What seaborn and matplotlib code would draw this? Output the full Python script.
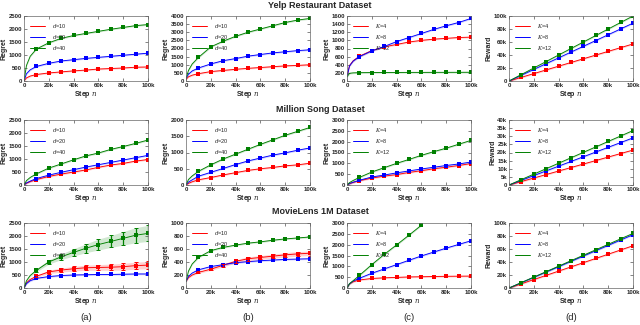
import numpy as np
import pandas as pd
import matplotlib
matplotlib.use("Agg")
import matplotlib.pyplot as plt
import seaborn as sns
from matplotlib.lines import Line2D

# steps at which the curves are read (markers only from 10k on)
steps = [0, 2000, 5000, 10000, 20000, 30000, 40000, 50000, 60000, 70000, 80000, 90000, 100000]

# ---- Yelp Restaurant ----
yelp_a_d10 = [0, 120, 190, 250, 310, 350, 390, 420, 460, 480, 500, 530, 540]
yelp_a_d20 = [0, 280, 430, 560, 680, 770, 820, 870, 910, 950, 990, 1030, 1070]
yelp_a_d40 = [0, 600, 950, 1230, 1470, 1640, 1750, 1830, 1910, 1990, 2060, 2130, 2170]

yelp_b_d10 = [100, 260, 360, 450, 580, 650, 720, 780, 830, 880, 930, 960, 1000]
yelp_b_d20 = [150, 420, 620, 800, 1050, 1250, 1380, 1530, 1630, 1730, 1800, 1870, 1920]
yelp_b_d40 = [150, 650, 1050, 1450, 2100, 2450, 2750, 3000, 3200, 3400, 3600, 3750, 3850]

yelp_c_k4 = [100, 380, 500, 610, 750, 840, 900, 960, 1000, 1030, 1050, 1070, 1080]
yelp_c_k8 = [100, 370, 490, 600, 740, 850, 970, 1070, 1170, 1270, 1360, 1440, 1540]
yelp_c_k12 = [100, 190, 200, 205, 208, 210, 210, 212, 212, 213, 213, 214, 215]

yelp_d_k4 = [0, 1100, 2800, 5700, 11400, 17100, 22800, 28500, 34200, 39900, 45600, 51300, 57000]
yelp_d_k8 = [0, 1800, 4450, 8900, 17800, 26700, 35600, 44500, 53400, 62300, 71200, 80100, 89000]
yelp_d_k12 = [0, 2000, 5000, 10000, 20000, 30000, 40000, 50000, 60000, 70000, 80000, 90000, 100000]

# ---- Million Song ----
song_a_d10 = [0, 70, 130, 210, 330, 420, 500, 580, 680, 770, 830, 920, 980]
song_a_d20 = [0, 80, 150, 250, 380, 490, 590, 690, 780, 870, 960, 1050, 1140]
song_a_d40 = [0, 170, 290, 430, 650, 810, 970, 1120, 1230, 1370, 1480, 1600, 1730]

song_b_d10 = [0, 50, 100, 160, 230, 310, 380, 450, 500, 540, 590, 620, 670]
song_b_d20 = [0, 90, 160, 270, 390, 510, 630, 740, 830, 920, 990, 1070, 1140]
song_b_d40 = [0, 170, 280, 420, 620, 800, 950, 1100, 1250, 1390, 1530, 1650, 1770]

song_c_k4 = [0, 60, 120, 200, 320, 410, 480, 580, 660, 750, 820, 900, 990]
song_c_k8 = [0, 70, 130, 220, 370, 460, 560, 650, 740, 820, 900, 970, 1060]
song_c_k12 = [0, 110, 210, 350, 600, 800, 1000, 1180, 1370, 1540, 1700, 1880, 2060]

song_d_k4 = [0, 430, 1080, 2150, 4300, 6450, 8600, 10750, 12900, 15050, 17200, 19350, 21500]
song_d_k8 = [0, 580, 1450, 2900, 5800, 8700, 11600, 14500, 17400, 20300, 23200, 26100, 29000]
song_d_k12 = [0, 670, 1680, 3350, 6700, 10050, 13400, 16750, 20100, 23450, 26800, 30150, 33500]

# ---- MovieLens 1M ----
movie_a_d10 = [0, 200, 330, 450, 620, 690, 740, 780, 790, 800, 820, 860, 880]
movie_a_d20 = [0, 170, 280, 370, 440, 480, 500, 510, 520, 520, 530, 540, 540]
movie_a_d40 = [0, 280, 480, 680, 1000, 1200, 1370, 1530, 1670, 1790, 1910, 2030, 2100]
movie_a_d10_err = [0, 0, 0, 40, 65, 80, 90, 100, 110, 120, 130, 135, 140]
movie_a_d40_err = [0, 0, 0, 60, 80, 110, 140, 170, 210, 230, 260, 290, 310]

movie_b_d10 = [100, 160, 200, 240, 290, 350, 410, 450, 470, 490, 510, 525, 535]
movie_b_d20 = [100, 180, 230, 280, 330, 360, 390, 405, 420, 430, 440, 445, 450]
movie_b_d40 = [100, 260, 370, 470, 575, 625, 660, 690, 710, 735, 755, 770, 785]
movie_b_d10_err = [0, 0, 0, 15, 20, 25, 25, 30, 30, 30, 35, 35, 35]

movie_c_k4 = [0, 190, 290, 370, 440, 470, 490, 510, 520, 530, 540, 545, 550]
movie_c_k8 = [0, 200, 320, 450, 680, 880, 1080, 1280, 1480, 1660, 1840, 2010, 2180]
movie_c_k12 = [0, 200, 340, 580, 1080, 1550, 1990, 2440, 2900, np.nan, np.nan, np.nan, np.nan]

movie_d_k4 = [0, 1300, 3250, 6500, 13000, 19500, 26000, 32500, 39000, 45500, 52000, 58500, 65000]
movie_d_k8 = [0, 1640, 4100, 8200, 16400, 24600, 32800, 41000, 49200, 57400, 65600, 73800, 82000]
movie_d_k12 = [0, 1680, 4200, 8400, 16800, 25200, 33600, 42000, 50400, 58800, 67200, 75600, 84000]

d_labels = [r"$d$=10", r"$d$=20", r"$d$=40"]
k_labels = [r"$K$=4", r"$K$=8", r"$K$=12"]
row_titles = ["Yelp Restaurant Dataset", "Million Song Dataset", "MovieLens 1M Dataset"]
col_titles = ["(a)", "(b)", "(c)", "(d)"]
colors = ["#ff0000", "#0000ff", "#008000"]

panels = [
    [([yelp_a_d10, yelp_a_d20, yelp_a_d40], None, d_labels, 2500, 500, "Regret"),
     ([yelp_b_d10, yelp_b_d20, yelp_b_d40], None, d_labels, 4000, 500, "Regret"),
     ([yelp_c_k4, yelp_c_k8, yelp_c_k12], None, k_labels, 1600, 200, "Regret"),
     ([yelp_d_k4, yelp_d_k8, yelp_d_k12], None, k_labels, 100000, 20000, "Reward")],
    [([song_a_d10, song_a_d20, song_a_d40], None, d_labels, 2500, 500, "Regret"),
     ([song_b_d10, song_b_d20, song_b_d40], None, d_labels, 2000, 500, "Regret"),
     ([song_c_k4, song_c_k8, song_c_k12], None, k_labels, 3000, 500, "Regret"),
     ([song_d_k4, song_d_k8, song_d_k12], None, k_labels, 40000, 5000, "Reward")],
    [([movie_a_d10, movie_a_d20, movie_a_d40], [movie_a_d10_err, None, movie_a_d40_err], d_labels, 2500, 500, "Regret"),
     ([movie_b_d10, movie_b_d20, movie_b_d40], [movie_b_d10_err, None, None], d_labels, 1000, 200, "Regret"),
     ([movie_c_k4, movie_c_k8, movie_c_k12], None, k_labels, 3000, 500, "Regret"),
     ([movie_d_k4, movie_d_k8, movie_d_k12], None, k_labels, 100000, 20000, "Reward")],
]

sns.set_style("ticks")
plt.rcParams["font.family"] = ["Liberation Sans", "DejaVu Sans"]
plt.rcParams["mathtext.fontset"] = "dejavuserif"

W, H = 640, 325
fig = plt.figure(figsize=(6.4, 3.25), dpi=100)

col_left = [24, 186, 347, 509]
row_top = [16, 120, 223]
ax_w, ax_h = 124, 65


def fmt_k(v):
    return "0" if v == 0 else f"{int(v / 1000)}k"


for r in range(3):
    for c in range(4):
        series, errs, labels, ymax, ystep, ylab = panels[r][c]
        ax = fig.add_axes([col_left[c] / W, 1 - (row_top[r] + ax_h) / H, ax_w / W, ax_h / H])
        df = pd.concat([pd.DataFrame({"step": steps, "value": s, "series": lab})
                        for s, lab in zip(series, labels)])
        df = df.dropna()
        sns.lineplot(data=df, x="step", y="value", hue="series", palette=colors,
                     hue_order=labels, marker="s", markersize=2.5, markeredgewidth=0,
                     markevery=(3, 1), linewidth=0.65, legend=False, ax=ax)
        # light bands / error bars
        for i, s in enumerate(series):
            s = np.array(s, dtype=float)
            e = np.array(errs[i], dtype=float) if (errs and errs[i] is not None) else None
            band = e if e is not None else np.full_like(s, ymax * 0.012)
            band = np.maximum(band, ymax * 0.012)
            ax.fill_between(steps, s - band, s + band, color=colors[i], alpha=0.18, lw=0)
            if e is not None:
                ax.errorbar(steps[3:], s[3:], yerr=e[3:], fmt="none", ecolor=colors[i],
                            elinewidth=0.9, capsize=1.3, capthick=0.7)
        ax.set_xlim(0, 100000)
        ax.set_ylim(0, ymax)
        xt = np.arange(0, 100001, 20000)
        ax.set_xticks(xt)
        ax.set_xticklabels([fmt_k(v) for v in xt])
        yt = np.arange(0, ymax + 1, ystep)
        ax.set_yticks(yt)
        if ylab == "Reward":
            ax.set_yticklabels([fmt_k(v) for v in yt])
        else:
            ax.set_yticklabels([str(int(v)) for v in yt])
        ax.tick_params(direction="in", length=2, width=0.4, labelsize=4.3, pad=1.2,
                       top=True, right=True)
        for lab in ax.get_xticklabels() + ax.get_yticklabels():
            lab.set_fontweight("bold")
        for sp in ax.spines.values():
            sp.set_linewidth(0.5)
            sp.set_color("#666666")
        ax.set_xlabel(r"Step $n$", fontsize=5.0, fontweight="bold", labelpad=1)
        ax.set_ylabel(ylab, fontsize=5.0, fontweight="bold", labelpad=0.8)
        handles = [Line2D([], [], color=colors[i], lw=0.7) for i in range(3)]
        ax.legend(handles, labels, loc="upper left", frameon=False, fontsize=4.0,
                  handlelength=2.8, labelspacing=0.6, borderaxespad=0.6, handletextpad=1.2)

for r, t in enumerate(row_titles):
    fig.text(0.5, 1 - (row_top[r] - 11) / H, t, ha="center", va="center",
             fontsize=6.5, fontweight="bold")
for c, t in enumerate(col_titles):
    fig.text((col_left[c] + ax_w / 2) / W, 1 - 318 / H, t, ha="center", va="center",
             fontsize=6.8)

fig.savefig("out.png", dpi=100)
